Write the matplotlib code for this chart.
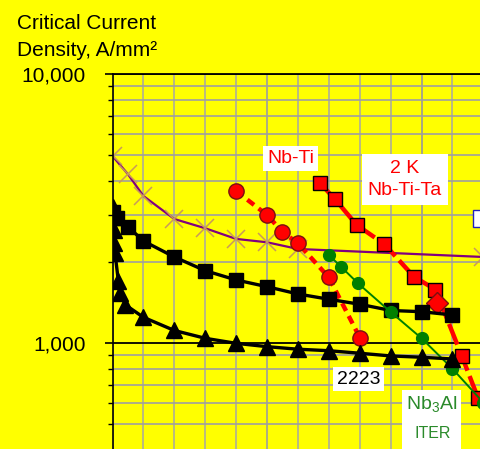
import matplotlib
matplotlib.use('Agg')
import matplotlib.pyplot as plt
from matplotlib.ticker import NullFormatter

plt.rcParams['font.family'] = ['Liberation Sans', 'DejaVu Sans']
plt.rcParams['mathtext.fontset'] = 'custom'
plt.rcParams['mathtext.rm'] = 'Liberation Sans'

# Field (T) and critical current density (A/mm^2)
purple_b = [0, 0.5, 1, 2, 3, 4, 5, 6, 12]
purple_jc = [4955, 4240, 3520, 2890, 2670, 2437, 2368, 2236, 2088]

sq_b = [0, 0.15, 0.5, 1, 2, 3, 4, 5, 6, 7, 8, 9, 10, 11]
sq_jc = [3069, 2915, 2706, 2394, 2088, 1857, 1715, 1619, 1521, 1454, 1393, 1321, 1307, 1271]

tri_b = [0.0, 0.02, 0.04, 0.06, 0.08, 0.19, 0.24, 0.42, 1, 2, 3, 4, 5, 6, 7, 8, 9, 10, 11]
tri_jc = [3212, 2941, 2630, 2353, 2161, 1700, 1535, 1385, 1246, 1113, 1041, 997, 969, 948,
          936, 916, 895, 885, 872]

nbti_b = [4, 5, 5.5, 6, 7, 8]
nbti_jc = [3673, 2990, 2586, 2348, 1752, 1048]

nbtita_b = [6.7, 7.2, 7.9, 8.8, 9.75, 10.45, 11.3, 11.83]
nbtita_jc = [3944, 3422, 2746, 2329, 1764, 1579, 895, 623]

diamond_b = [10.5]
diamond_jc = [1405]

nb3al_b = [7, 7.4, 7.95, 9, 10, 11, 12]
nb3al_jc = [2124, 1917, 1664, 1304, 1041, 802, 600]

fig = plt.figure(figsize=(4.8, 4.49), dpi=100)
fig.patch.set_facecolor('#FFFF00')
ax = fig.add_axes([112.5 / 480, 0, 1 - 112.5 / 480, 375 / 449])
ax.set_facecolor('#FFFF00')
ax.set_yscale('log')
ax.set_xlim(0, 11.89)
ax.set_ylim(403.5, 10000)

# grid
ax.set_axisbelow(True)
ax.set_xticks(range(0, 12))
ax.tick_params(axis='x', bottom=False, labelbottom=False)
ax.grid(axis='x', color='#b4b48c', lw=1.3)
for xv in [5, 10]:
    ax.axvline(xv, color='#6e6e30' if xv == 5 else '#3a3a20', lw=1.3, zorder=0.5)
ax.set_yticks([1000, 10000], labels=['1,000', '10,000'])
ax.set_yticks([500, 600, 700, 800, 900, 2000, 3000, 4000, 5000, 6000, 7000, 8000, 9000], minor=True)
ax.yaxis.set_minor_formatter(NullFormatter())
ax.grid(axis='y', which='minor', color='#a0a0a0', lw=1.2)
ax.grid(axis='y', which='major', color='black', lw=1.3)
ax.tick_params(axis='y', which='major', length=5.5, width=1.2, labelsize=15, pad=14)
ax.tick_params(axis='y', which='minor', length=3.8, width=1.0)
for s in ['right', 'bottom']:
    ax.spines[s].set_visible(False)
ax.spines['top'].set_linewidth(1.3)
ax.spines['left'].set_linewidth(1.2)

# series
ax.plot(purple_b, purple_jc, color='#800080', lw=1.6, marker='x', ms=12.5,
        mec='#c89a5a', mew=1.1, zorder=2)
ax.plot(nbti_b, nbti_jc, color='#FF0000', lw=3.2, dashes=(1.9, 1.3), marker='o', ms=11,
        mfc='#FF0000', mec='#7a1010', mew=1, zorder=3)
ax.plot(nbtita_b, nbtita_jc, color='#FF0000', lw=3.2, dashes=(5, 1.3), marker='s', ms=10.5,
        mfc='#FF0000', mec='black', mew=1, zorder=3)
ax.plot(diamond_b, diamond_jc, ls='none', marker='D', ms=11, mfc='#FF0000', mec='#7a1010',
        mew=1, zorder=3)
ax.plot(sq_b, sq_jc, color='black', lw=2.4, marker='s', ms=10.5, zorder=4)
ax.plot(nb3al_b, nb3al_jc, color='#008000', lw=1.4, marker='o', ms=8.5, zorder=5)
ax.plot(tri_b, tri_jc, color='black', lw=2.4, marker='^', ms=11.5, zorder=6)

# labels
box = dict(boxstyle='square,pad=0.2', fc='white', ec='none')
ax.text(5.76, 4853, 'Nb-Ti', color='#FF0000', fontsize=14, ha='center', va='center',
        bbox=box, zorder=7)
ax.text(9.45, 4054, '2 K\nNb-Ti-Ta', color='#FF0000', fontsize=14, ha='center', va='center',
        linespacing=1.35, bbox=dict(boxstyle='square,pad=0.3', fc='white', ec='none'), zorder=7)
ax.text(7.96, 734, '2223', color='black', fontsize=14, ha='center', va='center',
        bbox=box, zorder=7)
ax.text(10.33, 640, 'Nb$_3$Al\n\n', color='#2a8a2a', fontsize=14, ha='center', va='top',
        linespacing=1.0, bbox=dict(boxstyle='square,pad=0.2', fc='white', ec='none'), zorder=7)
ax.text(10.35, 459, 'ITER', color='#2a8a2a', fontsize=11.5, ha='center', va='center', zorder=8)
ax.text(11.75, 2915, '   ', fontsize=9, ha='left', va='center', clip_on=False,
        bbox=dict(boxstyle='square,pad=0.2', fc='white', ec='#2020c0', lw=1), zorder=7)

fig.text(17 / 480, 1 - 29 / 449, 'Critical Current', fontsize=15, ha='left', va='baseline')
fig.text(17 / 480, 1 - 56 / 449, 'Density, A/mm²', fontsize=15, ha='left', va='baseline')

fig.savefig('out.png', dpi=100, facecolor=fig.get_facecolor())
